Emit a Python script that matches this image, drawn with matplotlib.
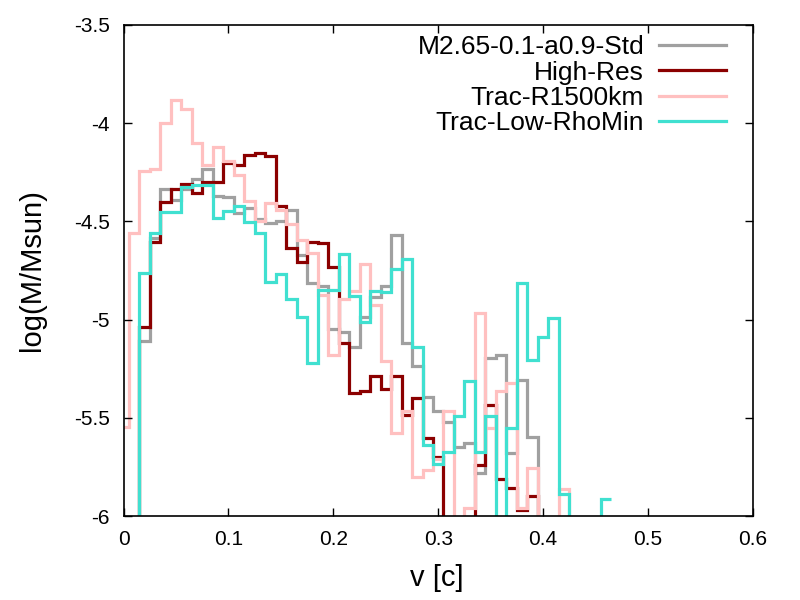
import numpy as np
import matplotlib
matplotlib.use("Agg")
import matplotlib.pyplot as plt

plt.rcParams['font.family'] = ['Liberation Sans', 'DejaVu Sans']

# velocity bins (bin centres, width 0.01 c)
v = np.round(np.arange(47) * 0.01, 2)
LOW = -7.0  # below the plotted range

labels = ['M2.65-0.1-a0.9-Std', 'High-Res', 'Trac-R1500km', 'Trac-Low-RhoMin']
colors = ['#a0a0a0', '#8b0000', '#ffc0c0', '#40e0d0']

std = [LOW, LOW, -5.107, -4.586, -4.337, -4.391, -4.335, -4.286, -4.235, -4.371,
       -4.378, -4.459, -4.434, -4.489, -4.510, -4.498, -4.442, -4.671, -4.815, -4.829,
       -5.050, -5.065, -5.141, -4.988, -4.886, -4.829, -4.569, -5.121, -5.236, -5.396,
       -5.465, -5.523, -5.647, -5.627, -5.780, -5.197, -5.180, -5.678, -5.308, -5.600,
       LOW, LOW, LOW, LOW, LOW, LOW, LOW]

high_res = [LOW, LOW, -5.040, -4.606, -4.403, -4.335, -4.311, -4.357, -4.299, -4.299,
            -4.204, -4.214, -4.162, -4.153, -4.167, -4.422, -4.634, -4.705, -4.603, -4.612,
            -4.731, -5.121, -5.375, -5.365, -5.287, -5.355, -5.287, -5.486, -5.401, -5.601,
            -5.701, LOW, LOW, LOW, -5.740, -5.433, -5.810, -5.857, -5.970, -5.900,
            LOW, LOW, LOW, LOW, LOW, LOW, LOW]

trac_r1500 = [-5.545, -4.559, -4.242, -4.233, -3.997, -3.882, -3.928, -4.099, -4.213, -4.120,
              -4.191, -4.264, -4.394, -4.496, -4.405, -4.442, -4.515, -4.595, -4.663, -4.875,
              -5.180, -4.895, -4.854, -4.717, -4.926, -5.209, -5.576, -5.463, -5.800, -5.766,
              -5.710, -5.465, LOW, -5.961, -4.965, -5.553, -5.364, -5.325, -5.961, -5.757,
              LOW, LOW, -5.864, LOW, LOW, LOW, LOW]

trac_lowrho = [LOW, LOW, -4.764, -4.561, -4.454, -4.454, -4.326, -4.316, -4.316, -4.483,
               -4.447, -4.422, -4.501, -4.561, -4.807, -4.768, -4.897, -4.985, -5.222, -4.849,
               -4.849, -4.666, -4.880, -5.014, -4.852, -4.861, -4.744, -4.693, -5.141, -5.639,
               -5.735, -5.676, -5.491, -5.313, -5.672, -5.491, LOW, -5.553, -4.812, -5.206,
               -5.090, -4.993, -5.888, LOW, LOW, LOW, -5.915]

series = [std, high_res, trac_r1500, trac_lowrho]

fig = plt.figure(figsize=(8, 6), dpi=100)
ax = fig.add_axes([123.5 / 800, 1 - 516 / 600, 629.5 / 800, 491 / 600])

edges = np.append(v - 0.005, v[-1] + 0.005)
for vals, lab, col in zip(series, labels, colors):
    ax.stairs(vals, edges, baseline=None, color=col, lw=2.3, label=lab)

ax.set_xlim(0, 0.6)
ax.set_ylim(-6, -3.5)
ax.set_xticks([0, 0.1, 0.2, 0.3, 0.4, 0.5, 0.6])
ax.set_xticklabels(['0', '0.1', '0.2', '0.3', '0.4', '0.5', '0.6'])
ax.set_yticks([-6, -5.5, -5, -4.5, -4, -3.5])
ax.set_yticklabels(['-6', '-5.5', '-5', '-4.5', '-4', '-3.5'])
ax.tick_params(direction='in', length=6, width=1, top=True, right=True,
               labelsize=15, pad=10)
for s in ax.spines.values():
    s.set_linewidth(1.2)

fig.text(437 / 800, 1 - 578 / 600, 'v [c]', fontsize=21, ha='center', va='center')
fig.text(32 / 800, 1 - 270 / 600, 'log(M/Msun)', fontsize=21, rotation=90,
         ha='center', va='center')

ax.legend(loc='upper right', bbox_to_anchor=(0.957, 0.979), frameon=False,
          markerfirst=False, fontsize=19, handlelength=2.55, handletextpad=0.55,
          labelspacing=0.05, borderpad=0, borderaxespad=0)

fig.savefig('out.png', dpi=100)
